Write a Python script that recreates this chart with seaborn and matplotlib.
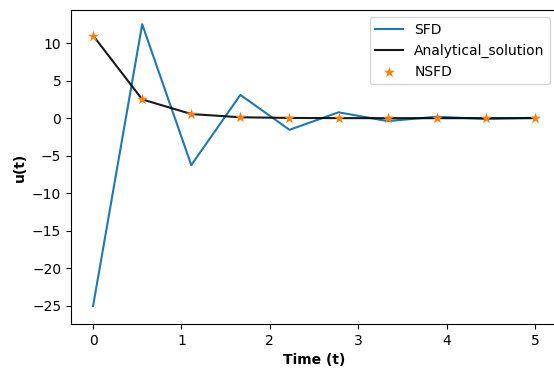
import matplotlib
matplotlib.use("Agg")
import matplotlib.pyplot as plt
import seaborn as sns
import numpy as np
import pandas as pd

t = [0.0, 0.5556, 1.1111, 1.6667, 2.2222, 2.7778, 3.3333, 3.8889, 4.4444, 5.0]
sfd = [-25.0, 12.5, -6.25, 3.1, -1.55, 0.78, -0.39, 0.19, -0.1, 0.05]
analytical = [11.0, 2.5, 0.55, 0.12, 0.03, 0.006, 0.001, 0.0, 0.0, 0.0]
nsfd = [11.0, 2.5, 0.55, 0.12, 0.03, 0.006, 0.001, 0.0, 0.0, 0.0]

df = pd.DataFrame({"t": t, "SFD": sfd, "Analytical_solution": analytical, "NSFD": nsfd})

fig = plt.figure(figsize=(5.54, 3.72), dpi=100)
W, H = 554, 372
ax = fig.add_axes([71 / W, (H - 324) / H, (557 - 71) / W, (324 - 10) / H])

sns.lineplot(data=df, x="t", y="SFD", ax=ax, color="#1f77b4", linewidth=1.5, label="SFD")
sns.lineplot(data=df, x="t", y="Analytical_solution", ax=ax, color="k", linewidth=1.5,
             alpha=0.9, label="Analytical_solution")
sns.scatterplot(data=df, x="t", y="NSFD", ax=ax, color="#ff7f0e", marker="*", s=70,
                linewidth=0, label="NSFD", zorder=3)

ax.set_xlabel("Time (t)", fontweight="bold")
ax.set_ylabel("u(t)", fontweight="bold")
ax.set_xticks([0, 1, 2, 3, 4, 5])
ax.set_yticks([-25, -20, -15, -10, -5, 0, 5, 10])
ax.set_xlim(-0.25, 5.25)
ax.set_ylim(-27.4, 14.4)
ax.legend(loc="upper right")

fig.savefig("out.png", dpi=100)
